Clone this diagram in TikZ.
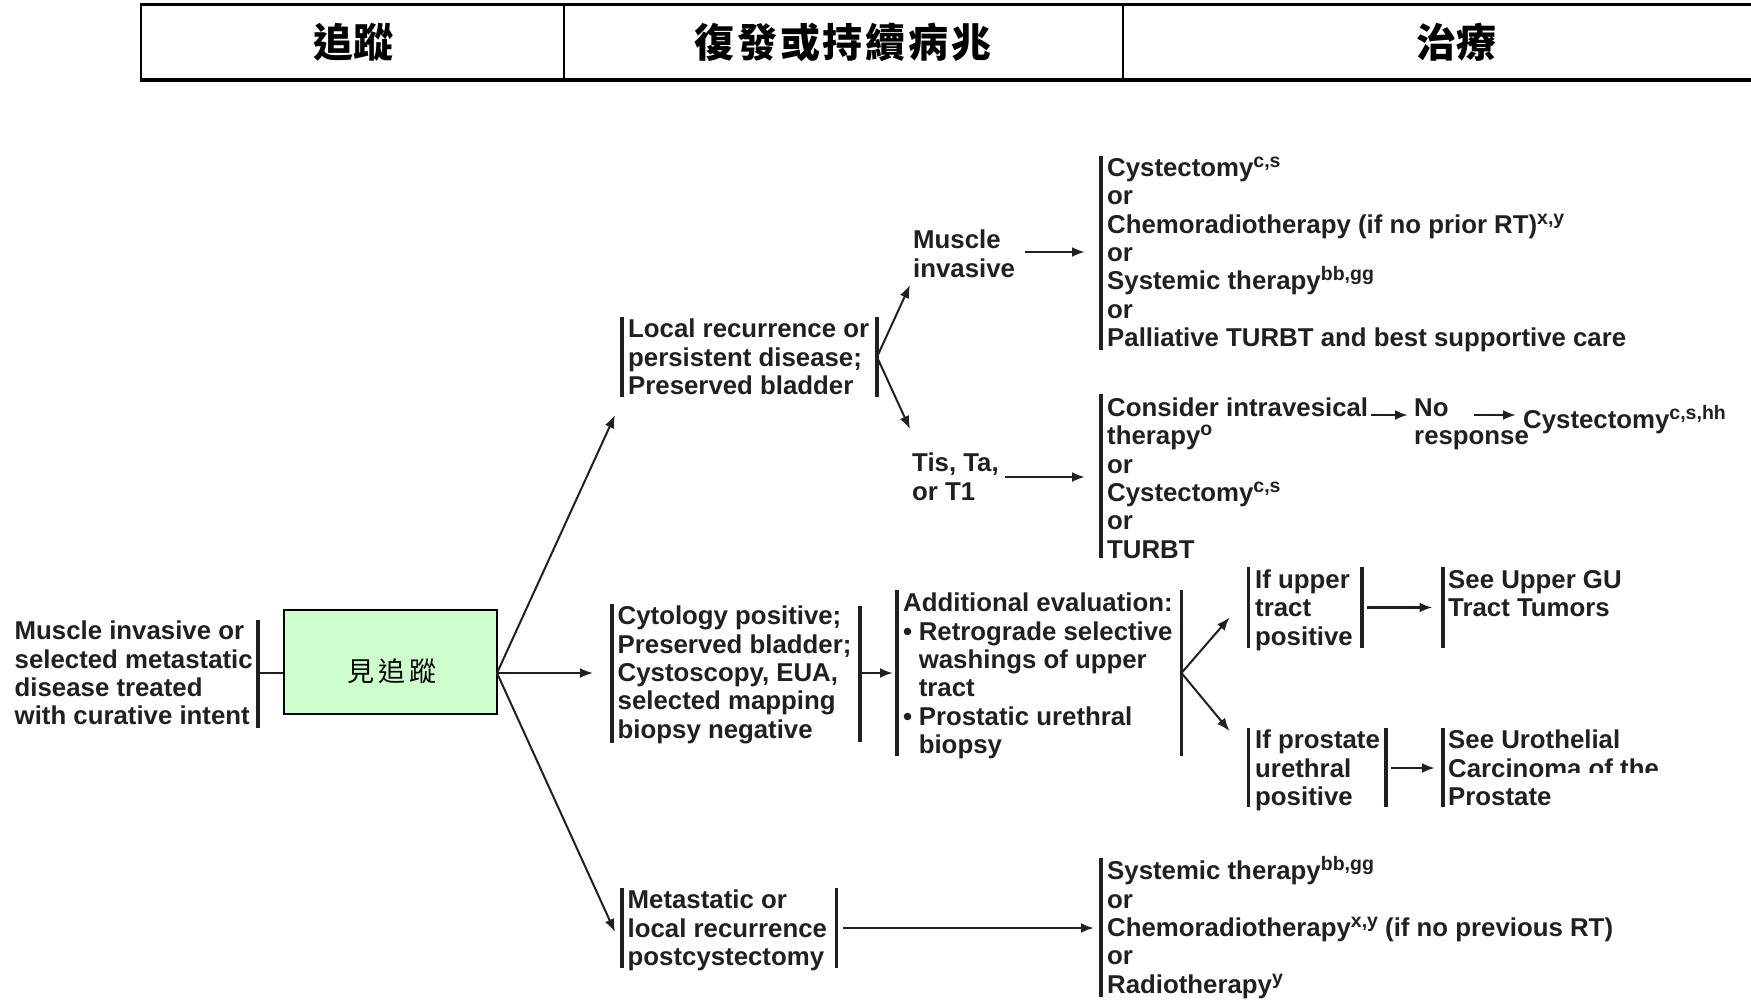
\documentclass[tikz,border=0pt]{standalone}
\usepackage{fontspec}
\setmainfont{Liberation Sans}
\newfontfamily\cjk{Noto Sans CJK TC}
\usetikzlibrary{arrows.meta}
\definecolor{txt}{HTML}{231F20}
\definecolor{boxg}{HTML}{CCFFCC}
\newcommand\spx[1]{\raisebox{9pt}{\fontsize{19.5}{19.5}\selectfont #1}}
\newcommand\tst{\setlength\lineskiplimit{-40pt}\rule{0pt}{24pt}}
\newcommand\bul{\makebox[15.6pt][l]{•}}
\newcommand\ind{\hspace*{15.6pt}}
\newcommand\cg{\hspace{2.7pt}}
\begin{document}
\begin{tikzpicture}[x=1pt,y=-1pt,
 tx/.style={anchor=north west,align=left,inner sep=0pt,text=txt,font=\bfseries\fontsize{25.8}{28.4}\selectfont},
 bar/.style={line width=3.2pt,draw=txt},
 con/.style={line width=2pt,draw=txt,-{Latex[length=13pt,width=10pt]}},
 conth/.style={con,line width=2.8pt},
 ln/.style={line width=2.4pt,draw=txt},
 hd/.style={font=\cjk\bfseries\fontsize{40}{40}\selectfont,inner sep=0pt,text=black}
]
\useasboundingbox (0,0) rectangle (1751,999);
% header
\draw[line width=3.5pt] (141,4.5) -- (1751,4.5);
\draw[line width=3.5pt] (141,80) -- (1751,80);
\draw[line width=2.5pt] (141,2.75) -- (141,81.75);
\draw[line width=2pt] (564,4.5) -- (564,80);
\draw[line width=2pt] (1123,4.5) -- (1123,80);
\node[hd] (h1) at (353,42) {追蹤};
\node[hd] (h2) at (843,42) {復\cg 發\cg 或\cg 持\cg 續\cg 病\cg 兆};
\node[hd] (h3) at (1456,42) {治療};

% left block
\node[tx] (mi0) at (14.5,615.5) {\tst Muscle invasive or\\selected metastatic\\disease treated\\with curative intent};
\draw[bar] (258,620) -- (258,728);
\coordinate (lb) at (258,673);
\node[draw=black,line width=2pt,fill=boxg,minimum width=213pt,minimum height=104pt,inner sep=0pt] (fu) at (390.5,662) {};
\node[font=\cjk\fontsize{27}{27}\selectfont,inner sep=0pt] (ful) at (392,671) {見\hspace{4pt}追\hspace{4pt}蹤};
\draw[ln] (lb) -- (lb -| fu.west);
\coordinate (fo) at (497,673);

% local recurrence
\node[tx] (lr) at (628,313.5) {\tst Local recurrence or\\persistent disease;\\Preserved bladder};
\draw[bar] (622,317) -- (622,397);
\draw[bar] (877,317) -- (877,397);
\coordinate (lrr) at (877,357);
\coordinate (lrl) at (615,415);
\node[tx] (mi) at (913,224.5) {\tst Muscle\\invasive};
\node[tx] (tis) at (912,447.5) {\tst Tis, Ta,\\or T1};
\coordinate (mit) at (910,285);
\coordinate (tist) at (910,429);

% right column 1
\node[tx] (r1) at (1107,152) {\tst Cystectomy\spx{c,s}\\or\\Chemoradiotherapy (if no prior RT)\spx{x,y}\\or\\Systemic therapy\spx{bb,gg}\\or\\Palliative TURBT and best supportive care};
\draw[bar] (1101,156) -- (1101,350);
\coordinate (r1a) at (1025,252);
\coordinate (r1b) at (1085,252);

% right column 2
\node[tx] (r2) at (1107,392) {\tst Consider intravesical\\therapy\spx{o}\\or\\Cystectomy\spx{c,s}\\or\\TURBT};
\draw[bar] (1101,394) -- (1101,558);
\coordinate (r2a) at (1005,477);
\coordinate (r2b) at (1085,477);
\node[tx] (nor) at (1414,392) {\tst No\\response};
\node[tx] (cys) at (1523,404.5) {\tst Cystectomy\spx{c,s,hh}};
\coordinate (c1a) at (1371,415);
\coordinate (c1b) at (1408,415);
\coordinate (c2a) at (1474,415);
\coordinate (c2b) at (1516,415);

% cytology
\node[tx] (cyt) at (617.5,600.5) {\tst Cytology positive;\\Preserved bladder;\\Cystoscopy, EUA,\\selected mapping\\biopsy negative};
\draw[bar] (612,604) -- (612,743);
\draw[bar] (860,606) -- (860,742);
\coordinate (cyr) at (860,673);
\coordinate (ael) at (893,673);
\coordinate (cyl) at (593,673);

% additional evaluation
\node[tx] (ae) at (903,587.5) {\tst Additional evaluation:\\\bul Retrograde selective\\\ind washings of upper\\\ind tract\\\bul Prostatic urethral\\\ind biopsy};
\draw[bar] (897,590) -- (897,756);
\draw[bar] (1181.5,590) -- (1181.5,756);
\coordinate (aer) at (1181.5,673);
\coordinate (utt) at (1229.5,617.5);
\coordinate (put) at (1229.5,731);

% upper tract
\node[tx] (ut) at (1255,564) {\tst If upper\\tract\\positive};
\draw[bar] (1248.5,567) -- (1248.5,648);
\draw[bar] (1362,567) -- (1362,648);
\coordinate (uta) at (1367,607.5);
\coordinate (utb) at (1432.5,607.5);
\node[tx] (sug) at (1448,564) {\tst See Upper GU\\Tract Tumors};
\draw[bar] (1443,567) -- (1443,648);

% prostate urethral
\node[tx] (pu) at (1255,724.5) {\tst If prostate\\urethral\\positive};
\draw[bar] (1248.5,728) -- (1248.5,807);
\draw[bar] (1386,728) -- (1386,807);
\coordinate (pua) at (1391,768);
\coordinate (pub) at (1435,768);
\node[tx] (suc) at (1448,724.5) {\tst See Urothelial\\Carcinoma of the\\Prostate};
\draw[bar] (1443,728) -- (1443,807);
\fill[white] (1551,773) rectangle (1700,812);

% metastatic
\node[tx] (met) at (627.5,884.5) {\tst Metastatic or\\local recurrence\\postcystectomy};
\draw[bar] (622,888) -- (622,968);
\draw[bar] (836.5,888) -- (836.5,968);
\coordinate (mea) at (843,928);
\coordinate (meb) at (1094,928);
\coordinate (mel) at (615,932);

% right column 3
\node[tx] (r3) at (1107,855.5) {\tst Systemic therapy\spx{bb,gg}\\or\\Chemoradiotherapy\spx{x,y} (if no previous RT)\\or\\Radiotherapy\spx{y}};
\draw[bar] (1101,858) -- (1101,997);

% connectors
\draw[con] (fo) -- (lrl);
\draw[con] (fo) -- (cyl);
\draw[con] (fo) -- (mel);
\draw[con] (lrr) -- (mit);
\draw[con] (lrr) -- (tist);
\draw[conth] (r1a) -- (r1b);
\draw[conth] (r2a) -- (r2b);
\draw[conth] (c1a) -- (c1b);
\draw[conth] (c2a) -- (c2b);
\draw[conth] (cyr) -- (ael);
\draw[con] (aer) -- (utt);
\draw[con] (aer) -- (put);
\draw[conth] (uta) -- (utb);
\draw[conth] (pua) -- (pub);
\draw[conth] (mea) -- (meb);
\end{tikzpicture}
\end{document}
